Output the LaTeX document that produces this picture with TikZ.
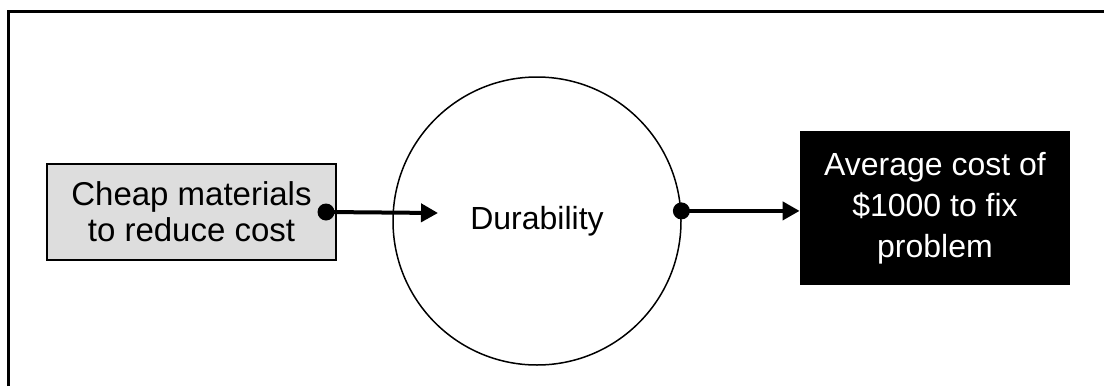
\documentclass[tikz,border=0pt]{standalone}
\usepackage{fontspec}
\setmainfont{Liberation Sans}
\usetikzlibrary{arrows.meta}

\begin{document}
\begin{tikzpicture}[x=0.5pt, y=-0.5pt, >={Triangle[length=8.5pt, width=9pt]}]

\definecolor{causecolor}{RGB}{221, 221, 221}

\tikzset{
  causebox/.style={draw, line width=1pt, fill=causecolor, minimum width=144.5pt,
    minimum height=48pt, align=center, font=\fontsize{16.5}{18}\selectfont},
  effectbox/.style={fill=black, text=white, minimum width=135pt, minimum height=77pt,
    align=center, font=\fontsize{16}{20.5}\selectfont},
  link/.style={->, line width=2pt}
}

\useasboundingbox (0, 0) rectangle (1104, 386);

% outer frame, cut at the right and bottom
\draw[line width=1.5pt] (8, 386) -- (8, 11) -- (1104, 11);

\node[causebox] (cheap) at (191.5, 212) {Cheap materials\\to reduce cost};
\node[draw, circle, line width=0.75pt, minimum size=144pt, inner sep=0pt,
  font=\fontsize{16}{18}\selectfont] (dur) at (537, 221) {Durability};
\node[effectbox] (cost) at (935, 208) {Average cost of\\\$1000 to fix\\problem};

\coordinate (in1) at (438, 213);

\fill ([xshift=-5.5pt]cheap.east) circle (4.25pt);
\draw[link] ([xshift=-5.5pt]cheap.east) -- (in1);

\fill (dur.4) circle (4.25pt);
\draw[link] (dur.4) -- (dur.4 -| cost.west);

\end{tikzpicture}
\end{document}
